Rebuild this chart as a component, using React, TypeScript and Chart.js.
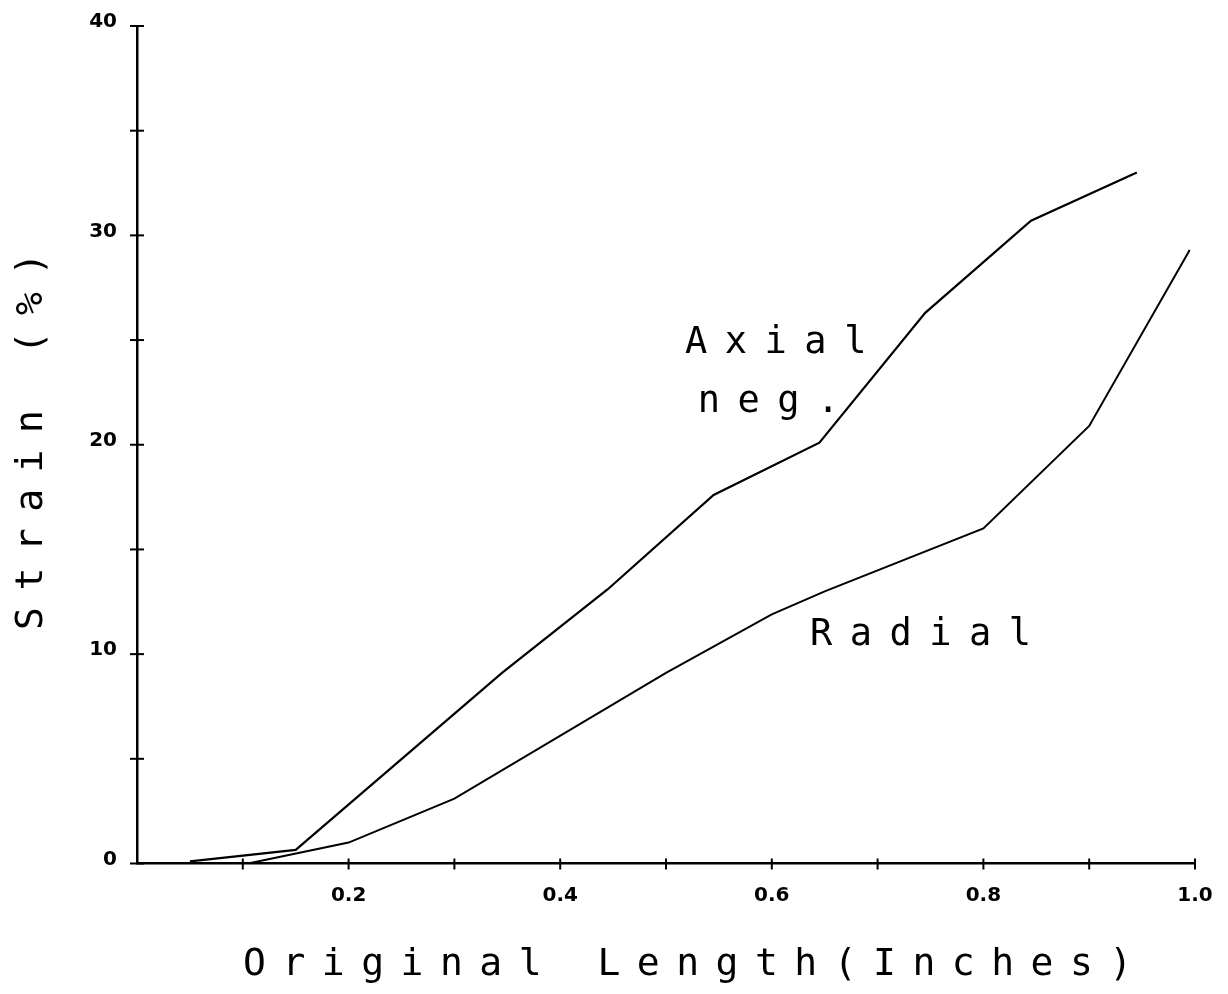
import React, { useEffect, useRef } from "react";
import { Chart, registerables } from "chart.js";

Chart.register(...registerables);

// ---- data ----
const axialX = [0.05, 0.15, 0.345, 0.445, 0.545, 0.645, 0.745, 0.845, 0.945];
const axialY = [0.1, 0.65, 9.1, 13.1, 17.6, 20.1, 26.3, 30.7, 33.0];

const radialX = [0.105, 0.2, 0.3, 0.5, 0.6, 0.65, 0.8, 0.9, 0.995];
const radialY = [0, 1.0, 3.1, 9.1, 11.9, 13.0, 16.0, 20.9, 29.3];

const xLabelValues = [0.2, 0.4, 0.6, 0.8, 1.0];
const xLabelTexts = ["0.2", "0.4", "0.6", "0.8", "1.0"];
const yLabelValues = [0, 10, 20, 30, 40];
const yLabelTexts = ["0", "10", "20", "30", "40"];

const xAxisTitle = "Original Length(Inches)";
const yAxisTitle = "Strain (%)";

const annotationTexts = ["Axial", "neg.", "Radial"];
const annotationX = [0.518, 0.53, 0.636];
const annotationY = [24.4, 21.56, 10.43];

const W = 1228;
const H = 994;

export default function App() {
  const ref = useRef<HTMLCanvasElement | null>(null);

  useEffect(() => {
    const canvas = ref.current;
    if (!canvas) return;

    const decorPlugin = {
      id: "decor",
      afterDraw(chart: any) {
        const ctx = chart.ctx as CanvasRenderingContext2D;
        const xs = chart.scales.x;
        const ys = chart.scales.y;
        const area = chart.chartArea;
        ctx.save();
        ctx.strokeStyle = "#000";
        ctx.lineWidth = 2;
        // crossing tick marks
        xs.ticks.forEach((t: any) => {
          if (Math.abs(t.value) < 1e-9) return;
          const px = xs.getPixelForValue(t.value);
          ctx.beginPath();
          ctx.moveTo(px, area.bottom - 5);
          ctx.lineTo(px, area.bottom + 6);
          ctx.stroke();
        });
        ys.ticks.forEach((t: any) => {
          const py = ys.getPixelForValue(t.value);
          ctx.beginPath();
          ctx.moveTo(area.left - 7, py);
          ctx.lineTo(area.left + 7, py);
          ctx.stroke();
        });

        // texts
        ctx.fillStyle = "#000";
        ctx.textAlign = "left";
        ctx.textBaseline = "alphabetic";
        ctx.font = "38px 'DejaVu Sans Mono'";
        (ctx as any).letterSpacing = "16.5px";

        // x title
        ctx.fillText(xAxisTitle, area.left + 106, area.bottom + 111);

        // y title (rotated)
        ctx.save();
        ctx.translate(area.left - 95, 630);
        ctx.rotate(-Math.PI / 2);
        ctx.fillText(yAxisTitle, 0, 0);
        ctx.restore();

        // annotations
        ctx.font = "37px 'DejaVu Sans Mono'";
        (ctx as any).letterSpacing = "17.5px";
        annotationTexts.forEach((txt, i) => {
          ctx.fillText(
            txt,
            xs.getPixelForValue(annotationX[i]),
            ys.getPixelForValue(annotationY[i])
          );
        });
        (ctx as any).letterSpacing = "0px";
        ctx.restore();
      },
    };

    const chart = new Chart(canvas, {
      type: "line",
      data: {
        datasets: [
          {
            label: "Axial neg.",
            data: axialX.map((x, i) => ({ x, y: axialY[i] })),
            borderColor: "#000",
            borderWidth: 2.2,
            pointRadius: 0,
            tension: 0,
            fill: false,
          },
          {
            label: "Radial",
            data: radialX.map((x, i) => ({ x, y: radialY[i] })),
            borderColor: "#000",
            borderWidth: 2,
            pointRadius: 0,
            tension: 0,
            fill: false,
          },
        ],
      },
      options: {
        responsive: false,
        animation: false,
        layout: { padding: { top: 26, right: 33, left: 0, bottom: 0 } },
        plugins: {
          legend: { display: false },
          tooltip: { enabled: false },
          title: { display: false },
        },
        scales: {
          x: {
            type: "linear",
            min: 0,
            max: 1,
            afterFit: (scale: any) => {
              scale.height = 130.5;
            },
            grid: { display: false },
            border: { display: true, color: "#000", width: 2.5 },
            ticks: {
              stepSize: 0.1,
              autoSkip: false,
              maxRotation: 0,
              padding: 12,
              color: "#000",
              font: { family: "'DejaVu Sans'", weight: "bold", size: 20 },
              callback: (value: any) => {
                const i = xLabelValues.findIndex((v) => Math.abs(v - Number(value)) < 1e-6);
                return i >= 0 ? xLabelTexts[i] : "";
              },
            },
          },
          y: {
            type: "linear",
            min: 0,
            max: 40,
            afterFit: (scale: any) => {
              scale.width = 137;
            },
            grid: { display: false },
            border: { display: true, color: "#000", width: 2.5 },
            ticks: {
              stepSize: 5,
              autoSkip: false,
              padding: 12,
              labelOffset: -4,
              color: "#000",
              font: { family: "'DejaVu Sans'", weight: "bold", size: 20 },
              callback: (value: any) => {
                const i = yLabelValues.findIndex((v) => Math.abs(v - Number(value)) < 1e-6);
                return i >= 0 ? yLabelTexts[i] : "";
              },
            },
          },
        },
      },
      plugins: [decorPlugin],
    });

    return () => chart.destroy();
  }, []);

  return (
    <div style={{ position: "absolute", left: 0, top: 0, width: W, height: H, background: "#fff" }}>
      <canvas ref={ref} width={W} height={H} />
    </div>
  );
}
